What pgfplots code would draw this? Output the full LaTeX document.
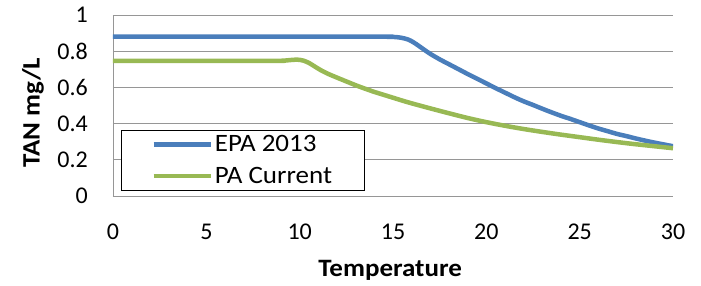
\documentclass[border=0pt]{standalone}
\usepackage{pgfplots}
\pgfplotsset{compat=1.18}
\usepackage{fontspec}
\setmainfont{Carlito}
\newfontfamily\widefont{Carlito}[FakeStretch=1.08]
\definecolor{epablue}{RGB}{74,126,187}
\definecolor{pagreen}{RGB}{152,185,84}
\definecolor{gridgray}{RGB}{150,150,150}
\begin{document}
\begin{tikzpicture}
\path[use as bounding box] (-113pt,-90pt) rectangle (588pt,196pt);
\begin{axis}[
  at={(0pt,0pt)}, anchor=south west,
  scale only axis, width=560pt, height=181pt,
  xmin=0, xmax=30, ymin=0, ymax=1,
  xtick={0,5,...,30}, ytick={0,0.2,...,1},
  axis x line*=bottom, axis y line*=left,
  axis line style={gridgray, line width=0.8pt},
  major tick length=0pt,
  ymajorgrids, grid style={gridgray, line width=0.8pt},
  /pgf/number format/assume math mode=true,
  tick label style={font=\fontsize{24}{28}\selectfont, text=black},
  yticklabel style={anchor=east, inner sep=0pt, xshift=-25pt},
  xticklabel style={anchor=center, inner sep=0pt, yshift=-36pt},
  xlabel={\textbf{Temperature}},
  ylabel={\textbf{TAN mg/L}},
  label style={font=\widefont\fontsize{25}{29}\selectfont},
  xlabel style={at={(axis description cs:0.495,-0.409)}, anchor=center},
  ylabel style={at={(axis description cs:-0.143,0.459)}, anchor=center, rotate=0},
  legend style={at={(axis description cs:0.0143,0.0276)}, anchor=south west,
    draw=black, line width=0.8pt, inner xsep=30pt, inner ysep=3.5pt,
    font=\widefont\fontsize{25}{29}\selectfont, row sep=10pt,
    cells={anchor=west}},
  legend image code/.code={\draw[#1] (0pt,0pt) -- (57pt,0pt);},
]
\addplot[epablue, line width=4.5pt, smooth, tension=0.5, line join=round] coordinates {
(0,0.880) (14,0.880) (14.5,0.880) (15,0.879) (15.4,0.875) (15.8,0.865)
(16.1,0.849) (16.4,0.828) (16.7,0.806) (17,0.785) (17.5,0.755) (18,0.728) (18.5,0.701)
(19,0.674) (19.5,0.648) (20,0.622) (20.5,0.596) (21,0.571) (21.5,0.546)
(22,0.523) (22.5,0.503) (23,0.482) (23.5,0.462) (24,0.443) (24.5,0.426)
(25,0.408) (25.5,0.390) (26,0.373) (26.5,0.358) (27,0.343) (27.5,0.331)
(28,0.318) (28.5,0.306) (29,0.295) (29.5,0.285) (30,0.275)};
\addlegendentry{EPA 2013}
\addplot[pagreen, line width=4.5pt, smooth, tension=0.5, line join=round] coordinates {
(0,0.747) (8.5,0.747) (9,0.747) (9.3,0.749) (9.6,0.752) (9.9,0.753) (10.2,0.748)
(10.5,0.735) (10.8,0.716) (11.1,0.697) (11.5,0.676) (12,0.654) (12.5,0.633)
(13,0.612) (13.5,0.593) (14,0.575) (14.5,0.559) (15,0.543) (15.5,0.527) (16,0.512)
(17,0.484) (18,0.457) (19,0.431) (20,0.408) (21,0.388) (22,0.370) (23,0.354)
(24,0.339) (25,0.325) (26,0.311) (27,0.298) (28,0.286) (29,0.275) (30,0.264)};
\addlegendentry{PA Current}
\end{axis}
\end{tikzpicture}
\end{document}
